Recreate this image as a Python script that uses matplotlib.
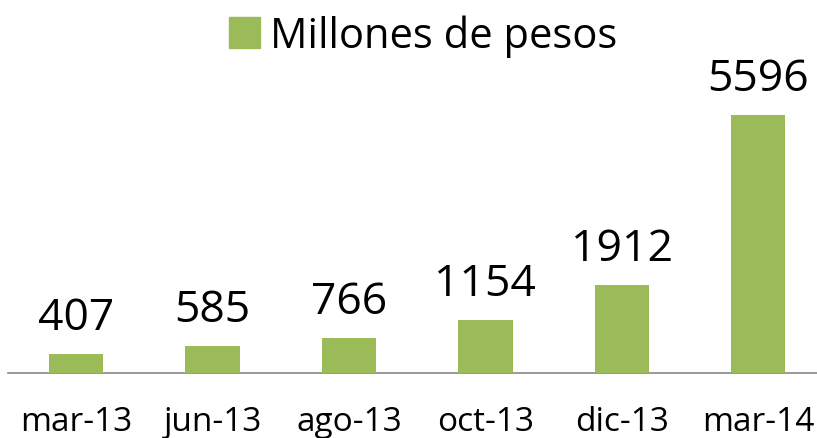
import matplotlib
matplotlib.use("Agg")
import matplotlib.pyplot as plt
from matplotlib.patches import Patch

categories = ["mar-13", "jun-13", "ago-13", "oct-13", "dic-13", "mar-14"]
values = [407, 585, 766, 1154, 1912, 5596]
series_name = "Millones de pesos"
bar_color = "#9BBB59"

plt.rcParams["font.family"] = ["Open Sans", "DejaVu Sans"]

W, H = 817, 439
fig = plt.figure(figsize=(W / 100, H / 100), dpi=100)
# axes: left edge ~8px, category spacing ~136.4px, baseline at y=374px
left_px, step_px = 8, 136.4
width_px = step_px * len(categories)
ax = fig.add_axes([left_px / W, (H - 374) / H, width_px / W, 276.6 / H])

x = range(len(categories))
bars = ax.bar(x, values, width=0.4, color=bar_color, zorder=3)
ax.set_xlim(-0.5, len(categories) - 0.5)
ax.set_ylim(0, 6000)

for b, v in zip(bars, values):
    ax.annotate(f"{v}", (b.get_x() + b.get_width() / 2, v),
                xytext=(0, 10), textcoords="offset points",
                ha="center", va="bottom", fontsize=32, color="black")

ax.set_xticks(list(x))
ax.set_xticklabels(categories, fontsize=24)
ax.tick_params(axis="x", length=0, pad=23)
ax.set_yticks([])
for side in ["top", "right", "left"]:
    ax.spines[side].set_visible(False)
ax.spines["bottom"].set_color("#868686")
ax.spines["bottom"].set_linewidth(1.2)

fig.legend(handles=[Patch(color=bar_color, label=series_name)],
           loc="upper center", bbox_to_anchor=(0.518, 1.05), frameon=False,
           fontsize=30, handlelength=0.75, handleheight=0.75, handletextpad=0.25)

fig.savefig("out.png", dpi=100)
